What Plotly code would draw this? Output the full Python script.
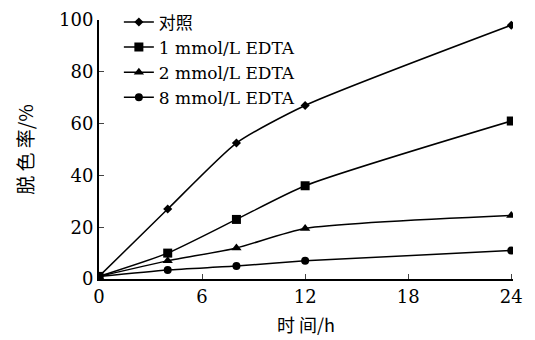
import plotly.graph_objects as go

hours = [0, 4, 8, 12, 24]
control = [1, 27, 52.5, 67, 98]
edta_1 = [1, 10, 23, 36, 61]
edta_2 = [1, 7, 12, 19.5, 24.5]
edta_8 = [1, 3.5, 5, 7, 11]
names = ["对照", "1 mmol/L EDTA", "2 mmol/L EDTA", "8 mmol/L EDTA"]
x_ticks = [0, 6, 12, 18, 24]
y_ticks = [0, 20, 40, 60, 80, 100]

series = [control, edta_1, edta_2, edta_8]
symbols = ["diamond", "square", "triangle-up", "circle"]
sizes = [7, 9, 9, 8]

fig = go.Figure()
for name, vals, sym, sz in zip(names, series, symbols, sizes):
    fig.add_trace(go.Scatter(
        x=hours, y=vals, name=name, mode="lines+markers",
        line=dict(color="black", width=1.5, shape="spline", smoothing=0.6),
        marker=dict(symbol=sym, size=sz, color="black"),
    ))

font_serif = "DejaVu Serif, Noto Sans CJK SC, serif"
cjk = "Noto Sans CJK SC"
# the page body has an 8px margin, so the figure is shrunk/offset to compensate
fig.update_layout(
    width=527, height=332,
    margin=dict(l=91, r=22, t=12, b=61, autoexpand=False),
    plot_bgcolor="white", paper_bgcolor="white",
    font=dict(family=font_serif, color="black", size=16),
    showlegend=True,
    legend=dict(x=0.048, y=1.06, xanchor="left", yanchor="top",
                bgcolor="rgba(0,0,0,0)", font=dict(size=17, family=font_serif),
                itemwidth=30, tracegroupgap=0),
    xaxis=dict(range=[0, 24.1], tickvals=x_ticks, ticks="inside", ticklen=5,
               showline=True, linecolor="black", linewidth=2, showgrid=False,
               zeroline=False, tickfont=dict(size=18), automargin=False,
               title=dict(text="时 间/h", font=dict(size=18, family=cjk), standoff=14)),
    yaxis=dict(range=[0, 100], tickvals=y_ticks, ticks="inside", ticklen=5,
               showline=True, linecolor="black", linewidth=2, showgrid=False,
               zeroline=False, tickfont=dict(size=18), automargin=False,
               title=dict(text="脱 色 率/%", font=dict(size=19, family=cjk), standoff=20)),
)
fig.write_html("out.html")
